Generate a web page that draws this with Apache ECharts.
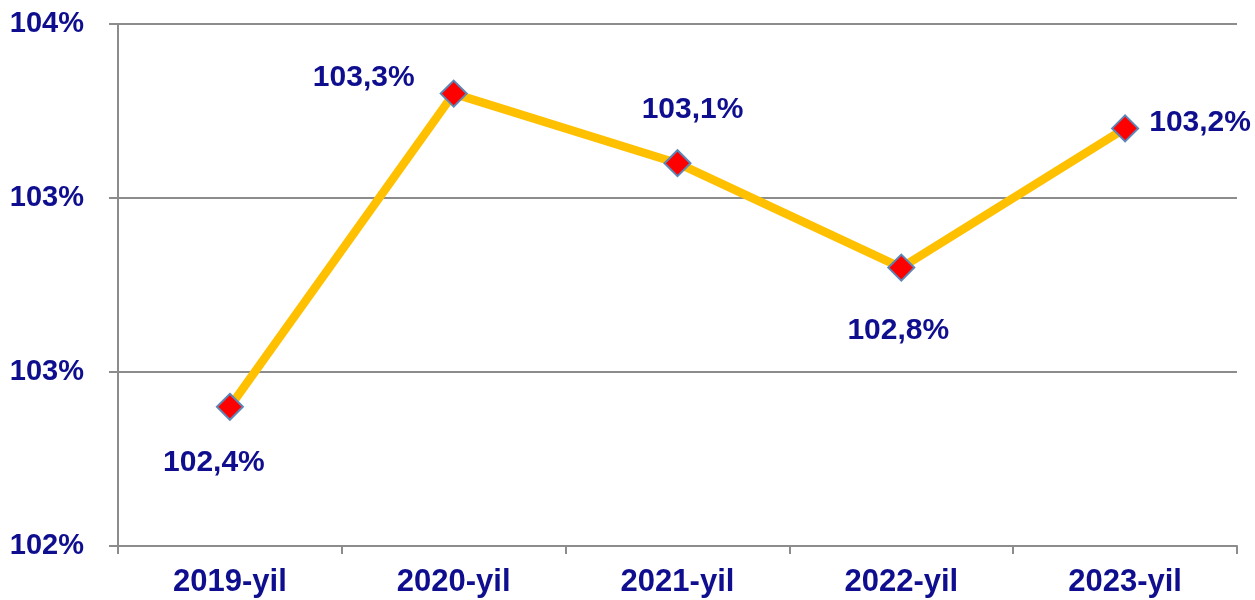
<!DOCTYPE html>
<html>
<head>
<meta charset="utf-8">
<script src="https://cdn.jsdelivr.net/npm/echarts@6/dist/echarts.min.js"></script>
<style>
  html, body { margin: 0; padding: 0; background: #fff; }
  #chart { width: 1255px; height: 600px; }
</style>
</head>
<body>
<div id="chart"></div>
<script>
const years = ['2019-yil', '2020-yil', '2021-yil', '2022-yil', '2023-yil'];
const growth = [102.4, 103.3, 103.1, 102.8, 103.2];
const yTicks = [102, 102.5, 103, 103.5];
const yTickLabels = ['102%', '103%', '103%', '104%'];

// label offsets from each marker, matching the original placement
const labelOffsets = [[-16, 56], [-90, -16], [15, -53], [-3, 63], [75, -6]];

const textColor = '#0E0E8E';
const font = 'Liberation Sans, Arial, sans-serif';

const chart = echarts.init(document.getElementById('chart'));

chart.setOption({
  animation: false,
  grid: { left: 118, right: 18, top: 24, bottom: 54 },
  xAxis: {
    type: 'category',
    data: years,
    boundaryGap: true,
    axisLine: { lineStyle: { color: '#8C8C8C', width: 2 } },
    axisTick: { show: true, length: 8, lineStyle: { color: '#8C8C8C', width: 2 } },
    axisLabel: {
      color: textColor, fontFamily: font, fontWeight: 'bold', fontSize: 31, margin: 21
    }
  },
  yAxis: {
    type: 'value',
    min: yTicks[0],
    max: yTicks[yTicks.length - 1],
    interval: 0.5,
    axisLine: { show: true, lineStyle: { color: '#8C8C8C', width: 2 } },
    axisTick: { show: true, length: 9, lineStyle: { color: '#8C8C8C', width: 2 } },
    splitLine: { show: true, lineStyle: { color: '#8C8C8C', width: 2 } },
    axisLabel: {
      color: textColor, fontFamily: font, fontWeight: 'bold', fontSize: 29, margin: 34,
      formatter: function (v) {
        const i = yTicks.findIndex(function (t) { return Math.abs(t - v) < 1e-6; });
        return i >= 0 ? yTickLabels[i] : '';
      }
    }
  },
  series: [{
    type: 'line',
    data: growth.map(function (v, i) {
      return {
        value: v,
        label: { offset: labelOffsets[i] }
      };
    }),
    lineStyle: { color: '#FFC000', width: 8.5 },
    itemStyle: { color: '#FF0000', borderColor: '#5B87B8', borderWidth: 2 },
    symbol: 'diamond',
    symbolSize: 26,
    showAllSymbol: true,
    label: {
      show: true,
      position: 'inside',
      color: textColor,
      fontFamily: font,
      fontWeight: 'bold',
      fontSize: 30,
      formatter: function (p) {
        return p.value.toFixed(1).replace('.', ',') + '%';
      }
    },
    z: 3
  }]
});
</script>
</body>
</html>
